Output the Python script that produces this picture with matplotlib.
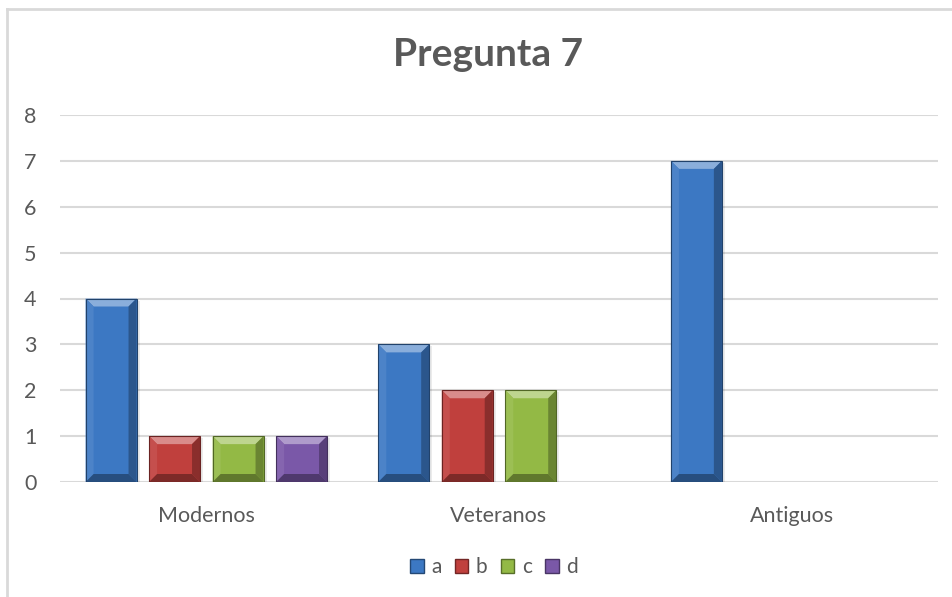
import matplotlib.pyplot as plt
import numpy as np
from matplotlib.patches import Polygon
from matplotlib.lines import Line2D

plt.rcParams['font.family'] = ['Lato', 'DejaVu Sans']

categories = ['Modernos', 'Veteranos', 'Antiguos']
series = ['a', 'b', 'c', 'd']
a = [4, 3, 7]
b = [1, 2, 0]
c = [1, 2, 0]
d = [1, 0, 0]
values = [a, b, c, d]
colors = ['#3c78c3', '#c0403d', '#93b945', '#7a58a8']
tick_labels = [0, 1, 2, 3, 4, 5, 6, 7, 8]

fig = plt.figure(figsize=(9.53, 5.97), dpi=100)
ax = fig.add_axes([60 / 953, 1 - 482 / 597, 878 / 953, 367 / 597])

# chart frame (only top and left edges show)
fig.add_artist(Line2D([7 / 953, 7 / 953], [0, 1 - 9 / 597], transform=fig.transFigure,
                      color='#d9d9d9', lw=2))
fig.add_artist(Line2D([7 / 953, 1], [1 - 9 / 597, 1 - 9 / 597], transform=fig.transFigure,
                      color='#d9d9d9', lw=2))


def shade(col, f):
    rgb = np.array(plt.matplotlib.colors.to_rgb(col))
    if f > 1:
        return tuple(rgb + (1 - rgb) * (f - 1))
    return tuple(rgb * f)


x = np.arange(len(categories))
step = 0.217
width = 0.174
px_x = 3 / 878  # data units per pixel along x
px_y = 8 / 367
bev = 8
for i, (vals, col) in enumerate(zip(values, colors)):
    bars = ax.bar(x + (i - 1.5) * step, vals, width, color=col, zorder=3, linewidth=0)
    for r in bars:
        h = r.get_height()
        if h <= 0:
            continue
        x0, x1 = r.get_x(), r.get_x() + r.get_width()
        bx, by = bev * px_x, bev * px_y
        # bevelled faces: top light, left lighter, right and bottom dark
        faces = [
            ([(x0, h), (x1, h), (x1 - bx, h - by), (x0 + bx, h - by)], shade(col, 1.4)),
            ([(x0, 0), (x0, h), (x0 + bx, h - by), (x0 + bx, by)], shade(col, 1.08)),
            ([(x1, 0), (x1, h), (x1 - bx, h - by), (x1 - bx, by)], shade(col, 0.72)),
            ([(x0, 0), (x1, 0), (x1 - bx, by), (x0 + bx, by)], shade(col, 0.65)),
        ]
        for pts, fc in faces:
            ax.add_patch(Polygon(pts, closed=True, facecolor=fc, edgecolor='none', zorder=4))
        ax.add_patch(plt.Rectangle((x0, 0), x1 - x0, h, fill=False,
                                   edgecolor=shade(col, 0.55), lw=0.8, zorder=5))
        # soft shadow to the right
        ax.add_patch(plt.Rectangle((x1, 0), 3 * px_x, h - 2 * px_y, facecolor='#000000',
                                   alpha=0.08, edgecolor='none', zorder=2))

ax.set_xlim(-0.5, 2.5)
ax.set_ylim(0, 8)
ax.set_yticks(tick_labels)
ax.set_xticks(x)
ax.set_xticklabels(categories)
ax.tick_params(axis='both', length=0, labelsize=15.5, colors='#595959')
ax.tick_params(axis='y', pad=17)
ax.tick_params(axis='x', pad=17)
ax.grid(axis='y', color='#d9d9d9', lw=1.5, zorder=0)
for s in ax.spines.values():
    s.set_visible(False)

fig.text(488 / 953, 1 - 55 / 597, 'Pregunta 7', ha='center', va='center',
         fontsize=28, fontweight='bold', color='#595959')

handles = [plt.Rectangle((0, 0), 1, 1, facecolor=cl, edgecolor=shade(cl, 0.6)) for cl in colors]
fig.legend(handles, series, loc='center', bbox_to_anchor=(494 / 953, 1 - 567 / 597),
           ncol=4, frameon=False, fontsize=15, handlelength=0.65, handleheight=0.65,
           handletextpad=0.35, columnspacing=0.65, labelcolor='#595959')

fig.savefig('out.png', dpi=100)
